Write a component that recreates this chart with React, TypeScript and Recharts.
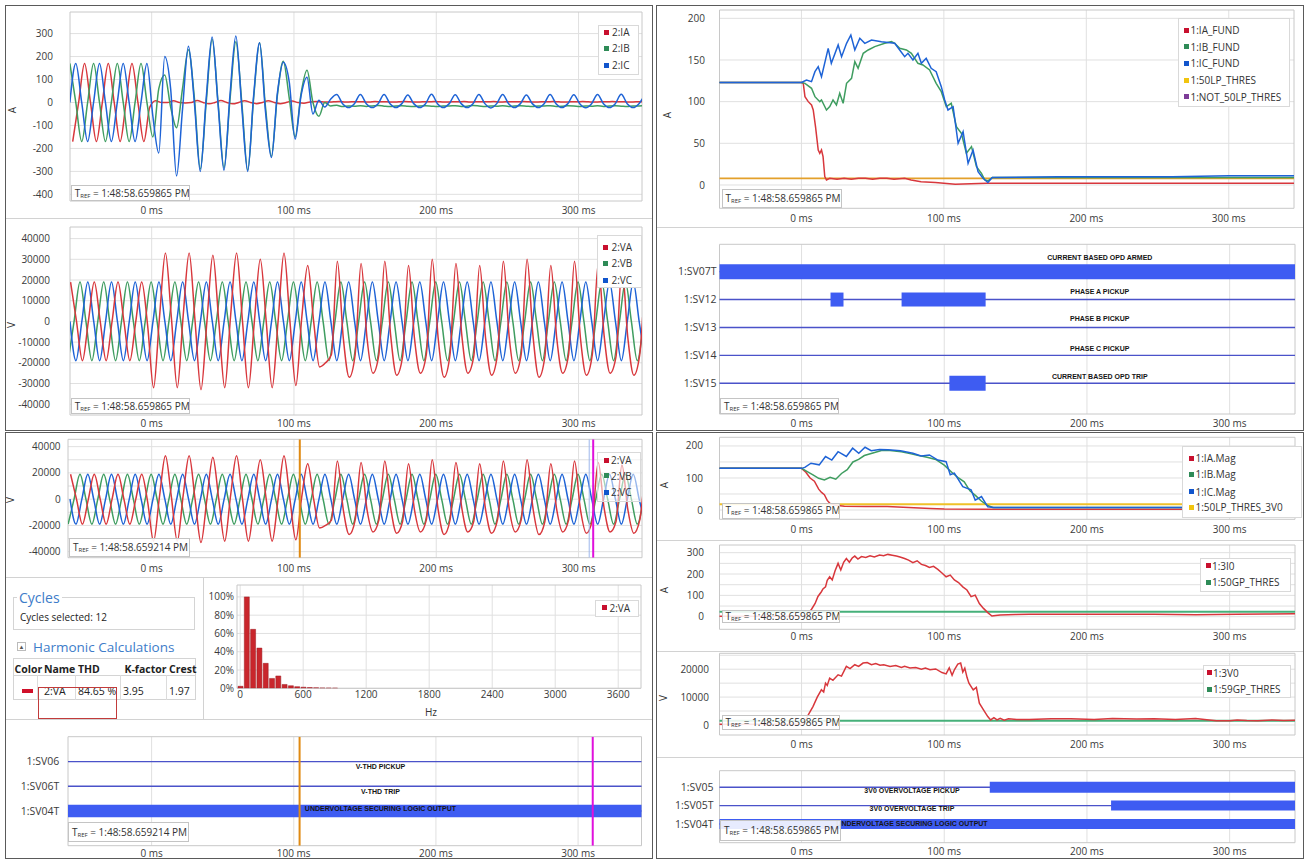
import React from 'react';
import { LineChart, Line, XAxis, YAxis, CartesianGrid, ReferenceArea, BarChart, Bar } from 'recharts';

const FONT = '"Segoe UI", "Open Sans", "Noto Sans", sans-serif';
const TAG_FONT = '"Liberation Sans", Arial, sans-serif';
const STEP = 50 / 12; // quarter cycle of 60 Hz, ms

const RED = '#d8373c';
const GREEN = '#3f9d60';
const BLUE = '#1e63d6';
const THR_O = '#e3a02b';
const THR_Y = '#efc12a';
const THR_G = '#46b07a';
const DIG_LINE = '#4a52c9';
const DIG_BAR = '#3e5cf2';

const MS_TICKS = [0, 100, 200, 300];
const LEFT_X = [-57.4, 344.6];
const LEFT_X2 = [-58.8, 344.6];
const RIGHT_X = [-57.5, 345.8];

// ---------------- waveform samples (quarter-cycle samples) ----------------
const IA_T0 = -55.5;
const IB_T0 = -57.5;
const IC_T0 = -57.5;
const VA_T0 = -57;
const VB_T0 = -58.7;
const VC_T0 = -57.4;

const IA_VALS = [
  -170, 0, 170, 0, -170, 0, 170, 0,
  -170, 0, 170, 0, -170, -20, 8, 0,
  0, 8, 0, -2, 0, 9, 0, -6,
  0, 9, 0, -6, 0, 8, 0, -5,
  0, 8, 0, -5, 0, 6, 0, -3,
  2, 4, 3, 2, 3, 4, 2, 3,
  3, 3, 2, 4, 3, 3, 2, 3,
  4, 3, 2, 3, 3, 4, 3, 2,
  3, 3, 4, 2, 3, 3, 3, 4,
  2, 3, 3, 3, 4, 3, 2, 3,
  3, 4, 3, 2, 3, 3, 4, 3,
  2, 3, 3, 4, 3, 3, 2, 3,
  3, 4,
];
const IB_VALS = [
  170, 0, -170, 0, 170, 0, -170, 0,
  170, 0, -170, 0, 170, 0, -150, 60,
  120, -20, -110, 60, 230, 20, -290, 0,
  275, 0, -285, 10, 265, 0, -295, 20,
  260, -20, -235, 30, 180, 20, -150, 40,
  140, 0, -60, 0, -15, -12, -18, -15,
  -16, -14, -17, -15, -13, -16, -18, -15,
  -14, -16, -17, -15, -14, -16, -18, -15,
  -15, -14, -17, -16, -13, -15, -18, -15,
  -16, -14, -17, -15, -14, -16, -18, -15,
  -15, -14, -17, -16, -14, -15, -18, -15,
  -16, -14, -17, -15, -14, -16, -18, -15,
  -15, -14,
];
const IC_VALS = [
  0, 170, 0, -170, 0, 170, 0, -170,
  0, 170, 0, -170, 0, 170, -60, -220,
  200, 60, -320, -30, 245, 0, -300, 20,
  285, -10, -295, 30, 290, -20, -300, 30,
  260, -40, -240, 40, 175, 90, -160, 30,
  110, -50, 10, -20, 15, 35, -5, -22,
  -5, 35, -5, -22, -5, 35, -5, -22,
  -5, 33, -5, -22, -5, 36, -5, -22,
  -5, 34, -5, -22, -5, 35, -5, -24,
  -5, 35, -5, -22, -5, 33, -5, -22,
  -5, 35, -5, -22, -5, 34, -5, -23,
  -5, 35, -5, -22, -5, 36, -5, -22,
  -5, 35,
];
const VA_VALS = [
  19000, 0, -19000, 0, 19000, 0, -19000, 0,
  19000, 0, -19000, 0, 19000, -2000, -32000, 2000,
  33000, 2000, -32000, 3000, 33000, 0, -33000, 0,
  32000, 0, -32000, 3000, 33000, 0, -32000, 0,
  30000, 0, -32000, 0, 33000, 0, -31000, 2000,
  27000, 0, -22000, -20000, -16000, 29000, -8000, -27000,
  -16000, 28000, -8000, -25000, -16000, 29000, -7000, -26000,
  -17000, 27000, -8000, -25000, -16000, 30000, -8000, -27000,
  -16000, 28000, -7000, -25000, -17000, 27000, -8000, -26000,
  -16000, 29000, -8000, -25000, -16000, 30000, -7000, -27000,
  -17000, 27000, -8000, -25000, -16000, 29000, -8000, -26000,
  -16000, 28000, -7000, -25000, -17000, 26000, -8000, -26000,
  -16000, 28000,
];
const VB_VALS = [
  -19000, 0, 19000, 0, -19000, 0, 19000, 0,
  -19000, 0, 19000, 0, -19000, 0, 19000, 0,
  -19000, 0, 19000, 0, -19000, 0, 19000, 0,
  -19000, 0, 19000, 0, -19000, 0, 19000, 0,
  -19000, 0, 19000, 0, -19000, 0, 19000, 0,
  -19000, 0, 19000, 0, -19000, 0, 19000, 0,
  -19000, 0, 19000, 0, -19000, 0, 19000, 0,
  -19000, 0, 19000, 0, -19000, 0, 19000, 0,
  -19000, 0, 19000, 0, -19000, 0, 19000, 0,
  -19000, 0, 19000, 0, -19000, 0, 19000, 0,
  -19000, 0, 19000, 0, -19000, 0, 19000, 0,
  -19000, 0, 19000, 0, -19000, 0, 19000, 0,
  -19000, 0,
];
const VC_VALS = [
  0, -19000, 0, 19000, 0, -19000, 0, 19000,
  0, -19000, 0, 19000, 0, -19000, 0, 19000,
  0, -19000, 0, 19000, 0, -19000, 0, 19000,
  0, -19000, 0, 19000, 0, -19000, 0, 19000,
  0, -19000, 0, 19000, 0, -19000, 0, 19000,
  0, -19000, 0, 19000, 0, -19000, 0, 19000,
  0, -19000, 0, 19000, 0, -19000, 0, 19000,
  0, -19000, 0, 19000, 0, -19000, 0, 19000,
  0, -19000, 0, 19000, 0, -19000, 0, 19000,
  0, -19000, 0, 19000, 0, -19000, 0, 19000,
  0, -19000, 0, 19000, 0, -19000, 0, 19000,
  0, -19000, 0, 19000, 0, -19000, 0, 19000,
  0, -19000,
];

// ---------------- fundamental / magnitude [ms, value] ----------------
const IA_FUND = [[-58, 123], [-20, 123], [0, 123], [1.3, 122], [2.5, 106], [4.8, 100], [7.1, 96], [8.3, 90], [9.9, 70], [11.8, 42], [12.9, 38], [14.1, 42], [15.2, 34], [16.4, 10], [17.6, 6], [19.9, 8], [25, 7], [30, 8], [35, 7], [40, 8], [45, 8], [50, 7], [55, 8], [60, 8], [65, 7], [72.5, 8], [77, 6], [84, 4], [94, 3], [108, 1], [130, 2], [200, 2], [300, 2], [346, 2]];
const IB_FUND = [[-58, 123], [0, 123], [2.5, 122], [7.1, 116], [9.5, 106], [12.9, 100], [14.1, 102], [17.6, 90], [19.9, 94], [22.2, 102], [24.6, 96], [26.9, 110], [29.3, 98], [31.7, 122], [35.2, 128], [37.5, 148], [39.8, 140], [43.4, 158], [46.9, 162], [51.5, 166], [58.5, 170], [63.2, 172], [65.5, 170], [69, 164], [73.7, 162], [77.2, 158], [81.8, 146], [85.3, 144], [90, 138], [94.6, 122], [98.2, 112], [101.7, 94], [105.2, 98], [108.8, 70], [112.3, 62], [115.8, 38], [119.4, 46], [122.9, 22], [126.4, 14], [128.8, 6], [131, 5], [134, 9], [180, 9], [260, 9], [346, 9]];
const IC_FUND = [[-58, 123], [0, 123], [3.6, 126], [7.1, 124], [9.5, 136], [11.8, 142], [14.1, 130], [18.8, 164], [21, 146], [25.8, 168], [28.2, 154], [31.7, 170], [34.7, 180], [37.5, 162], [41, 176], [44.5, 170], [49.2, 174], [56.2, 172], [60.8, 171], [65.5, 170], [69, 162], [72.5, 154], [74.8, 158], [78.3, 150], [81.8, 158], [84.2, 146], [87.6, 152], [91.1, 140], [94.6, 136], [98.2, 118], [100.6, 102], [102.9, 90], [106.5, 94], [110, 50], [113.5, 64], [117, 26], [120.5, 42], [124, 16], [127.5, 8], [130.9, 3], [134, 9], [180, 10], [260, 10], [300, 11], [346, 11]];
const LP_THRES = [[-58, 8], [346, 8]];

const IA_MAG = [[-58, 130], [0, 130], [3, 118], [6, 100], [9, 90], [12, 65], [14, 55], [16, 48], [18, 30], [20, 20], [24, 15], [30, 12], [45, 11], [60, 11], [75, 8], [90, 5], [100, 3], [130, 2], [346, 2]];
const IB_MAG = [[-58, 130], [0, 130], [4, 120], [8, 110], [12, 99], [16, 94], [20, 102], [24, 96], [28, 114], [32, 126], [36, 150], [40, 158], [44, 170], [50, 178], [56, 186], [62, 186], [70, 182], [76, 176], [82, 170], [88, 165], [94, 158], [100, 140], [106, 115], [110, 100], [114, 88], [118, 60], [122, 45], [126, 28], [130, 15], [134, 8], [346, 8]];
const IC_MAG = [[-58, 130], [0, 130], [2.3, 133], [6.6, 146], [12.4, 141], [16.8, 167], [21.2, 156], [25.6, 182], [31.4, 167], [35.8, 193], [40.1, 177], [44.5, 196], [48.8, 185], [54.7, 189], [60.5, 188], [69.3, 185], [78, 177], [83.8, 169], [89.6, 172], [95.5, 156], [101.3, 151], [104.2, 110], [107.1, 115], [113, 73], [118.8, 63], [121.7, 31], [126.1, 42], [130.5, 10], [134.8, 8], [346, 8]];
const LP_THRES_3V0 = [[-58, 18], [346, 18]];

const I0_3 = [[-58, 2], [0, 2], [3, 5], [5.1, 19], [7, 35], [9.5, 62], [11.5, 95], [13.9, 117], [15, 130], [16.8, 140], [18, 170], [19.7, 187], [21.5, 172], [23.5, 215], [25.6, 250], [27.5, 219], [29.5, 255], [31.4, 273], [33.5, 255], [35.5, 275], [37.3, 284], [39.5, 270], [42, 282], [45, 278], [48, 285], [51, 280], [54.7, 289], [57.5, 286], [60.5, 292], [63.5, 288], [66.4, 284], [69, 280], [72.2, 273], [75, 265], [78, 253], [81, 262], [84, 245], [86.8, 240], [89.6, 231], [92.5, 236], [95.5, 222], [98.4, 205], [101.3, 187], [104.2, 195], [107.1, 172], [110, 160], [113, 140], [115.9, 125], [118.8, 94], [121.7, 101], [124.6, 62], [127.5, 39], [130.5, 19], [133.4, 3], [136, 6], [139.2, 8], [150, 10], [159.6, 12], [188.7, 11], [217.9, 12], [247, 11], [276.1, 9], [305, 12], [325, 13], [346, 14]];
const GP50_THRES = [[-58, 23], [346, 23]];

const V0_3 = [[-58, 300], [0, 300], [2.2, 1200], [5.1, 4000], [8, 6600], [11, 10000], [13.9, 12600], [15.5, 11800], [16.8, 15000], [18, 14200], [19.7, 16800], [22, 16000], [25.6, 18000], [28, 17500], [31.4, 21000], [34, 20200], [37.3, 21600], [40, 21000], [43.1, 22200], [46, 22400], [49, 21600], [52, 22000], [55, 21400], [57.6, 21600], [62, 21000], [66, 21300], [70, 20600], [72.2, 21000], [76, 20400], [80, 20600], [84, 20000], [86.8, 20400], [90, 19800], [94, 20100], [98.4, 18800], [101.3, 18300], [103.5, 20500], [105.5, 17800], [107.1, 19800], [109.5, 21800], [111.5, 22200], [113, 19000], [114.4, 20400], [116, 17000], [117.3, 15000], [120.3, 12600], [122.5, 13500], [124.6, 7800], [127.5, 5400], [130.5, 3000], [132.5, 1800], [134.8, 2600], [137, 1800], [139.2, 2400], [142, 1700], [145, 2200], [150.8, 2000], [159.6, 2000], [175, 2200], [188.7, 2200], [205, 2000], [217.9, 2300], [235, 2100], [247, 2200], [262, 2000], [276.1, 2300], [284, 1900], [290.7, 1500], [300, 1500], [305.3, 1800], [312, 1600], [319.8, 1500], [330, 1800], [338, 1600], [346, 1700]];
const GP59_THRES = [[-58, 1500], [346, 1500]];

// ---------------- harmonic spectrum ----------------
const HARM_HZ = [0, 60, 120, 180, 240, 300, 360, 420, 480, 540, 600, 660, 720, 780, 840, 900];
const HARM_PCT = [2.2, 100, 64.5, 44, 27.3, 10.8, 13.5, 4.2, 2.8, 1.8, 1.2, 0.8, 0.6, 0.4, 0.3, 0.2];

// ---------------- digital channels ----------------
const B2_NAMES = ['1:SV07T', '1:SV12', '1:SV13', '1:SV14', '1:SV15'];
const B2_TAGS = ['CURRENT BASED OPD ARMED', 'PHASE A PICKUP', 'PHASE B PICKUP', 'PHASE C PICKUP', 'CURRENT BASED OPD TRIP'];
const B2_ON = [[[-58, 346]], [[20.3, 29.4], [70.1, 129]], [], [], [[103.6, 129]]];
const B2_TAG_T = 209;

const A4_NAMES = ['1:SV06', '1:SV06T', '1:SV04T'];
const A4_TAGS = ['V-THD PICKUP', 'V-THD TRIP', 'UNDERVOLTAGE SECURING LOGIC OUTPUT'];
const A4_ON = [[], [], [[-60, 346]]];
const A4_TAG_T = 161;

const B6_NAMES = ['1:SV05', '1:SV05T', '1:SV04T'];
const B6_TAGS = ['3V0 OVERVOLTAGE PICKUP', '3V0 OVERVOLTAGE TRIP', 'UNDERVOLTAGE SECURING LOGIC OUTPUT'];
const B6_ON = [[[131.9, 346]], [[216.9, 346]], [[-58, 346]]];
const B6_TAG_T = 77.4;

const CURSOR_T = [104.1, 310.3];
const CURSOR_AUX_T = 307.5;

// ---------------- helpers ----------------
const lattice = (t0: number, vals: number[]) => vals.map((v, i) => ({ t: t0 + i * STEP, v }));
const pairs = (arr: number[][]) => arr.map(([t, v]) => ({ t, v }));
const msFmt = (v: number) => `${v} ms`;

type LineDef = { pts: { t: number; v: number }[]; color: string; w?: number; curve?: string; dot?: any };

function TChart(p: any) {
  const [x, y, w, h] = p.box;
  const [pl, pt, pr, pb] = p.plot;
  const tickStyle = { fontSize: p.tickFs ?? 10, fill: '#3a3a3a', fontFamily: FONT };
  const yTickStyle = { fontSize: p.yTickFs ?? 10, fill: '#3a3a3a', fontFamily: FONT };
  return (
    <div style={{ position: 'absolute', left: x, top: y, width: w, height: h }}>
      <LineChart width={w} height={h} margin={{ top: pt - y, right: x + w - pr, bottom: 0, left: 0 }}>
        <CartesianGrid stroke="#e0e0e0" horizontal={p.yGrid ? true : false} horizontalValues={p.yGrid} verticalValues={MS_TICKS} />
        <XAxis type="number" dataKey="t" domain={p.xd} allowDataOverflow ticks={MS_TICKS} interval={0} tickFormatter={msFmt}
          height={y + h - pb} tickSize={0} tickMargin={p.xTM} axisLine={false} tickLine={false} tick={tickStyle} />
        <YAxis type="number" domain={p.yd} allowDataOverflow ticks={p.yTicks} interval={0} tickFormatter={p.yFmt}
          width={pl - x} tickSize={0} tickMargin={p.yTM} axisLine={false} tickLine={false} tick={yTickStyle} />
        <ReferenceArea x1={p.xd[0]} x2={p.xd[1]} y1={p.yd[0]} y2={p.yd[1]} fill="#ffffff" fillOpacity={0} stroke="#c8c8c8" strokeWidth={1} />
        {p.lines.map((l: LineDef, i: number) => (
          <Line key={i} data={l.pts} dataKey="v" type={(l.curve ?? 'monotone') as any} stroke={l.color} strokeWidth={l.w ?? 1.5}
            dot={l.dot ?? false} activeDot={false} isAnimationActive={false} />
        ))}
      </LineChart>
    </div>
  );
}

function Legend({ box, sqX, txX, rows, items, bg }: any) {
  const [x, y, w, h] = box;
  return (
    <>
      <div style={{ position: 'absolute', left: x, top: y, width: w, height: h, border: '1px solid #d9d9d9', background: bg ?? '#fff', boxSizing: 'border-box' }} />
      {items.map((it: any, i: number) => (
        <React.Fragment key={i}>
          <div style={{ position: 'absolute', left: sqX, top: rows[i] - 2.5, width: 5, height: 5, background: it.c }} />
          <div style={{ position: 'absolute', left: txX, top: rows[i] - 7, height: 14, lineHeight: '14px', fontSize: 10, color: '#333', whiteSpace: 'nowrap', fontFamily: FONT }}>{it.n}</div>
        </React.Fragment>
      ))}
    </>
  );
}

function Tref({ box, time }: any) {
  const [x, y, w, h] = box;
  return (
    <div style={{ position: 'absolute', left: x, top: y, width: w, height: h, border: '1px solid #c4c4c4', background: 'rgba(255,255,255,0.88)', boxSizing: 'border-box', fontSize: 10, color: '#333', lineHeight: `${h - 2}px`, paddingLeft: 3, whiteSpace: 'nowrap', overflow: 'hidden', fontFamily: FONT }}>
      T<span style={{ fontSize: 6, verticalAlign: '-1px' }}>REF</span> = {time}
    </div>
  );
}

function AxisLabel({ x, y, text }: any) {
  return (
    <div style={{ position: 'absolute', left: x - 7, top: y - 7, width: 14, height: 14, lineHeight: '14px', textAlign: 'center', fontSize: 10, color: '#333', transform: 'rotate(-90deg)', fontFamily: FONT }}>{text}</div>
  );
}

function tagDot(text: string, dy: number) {
  return (props: any) => (
    <text key={`tag-${text}-${props.index}`} x={props.cx} y={props.cy + dy} textAnchor="middle" dominantBaseline="central"
      fontSize={7} fontWeight={700} fontFamily={TAG_FONT} fill="#151515">{text}</text>
  );
}

function digitalLines(names: string[], on: number[][][], heights: number[], tags: string[], tagT: number, tagDy: number[], xd: number[]): LineDef[] {
  const n = names.length;
  const out: LineDef[] = [];
  names.forEach((_, i) => {
    const row = n - i;
    out.push({ pts: [{ t: xd[0] - 2, v: row }, { t: xd[1] + 2, v: row }], color: DIG_LINE, w: 1.4, curve: 'linear' });
  });
  names.forEach((_, i) => {
    const row = n - i;
    on[i].forEach(([a, b]) => {
      out.push({ pts: [{ t: a, v: row }, { t: b, v: row }], color: DIG_BAR, w: heights[i], curve: 'linear' });
    });
  });
  names.forEach((_, i) => {
    const row = n - i;
    out.push({ pts: [{ t: tagT, v: row }], color: 'none', w: 0, curve: 'linear', dot: tagDot(tags[i], tagDy[i]) });
  });
  return out;
}

function cursorLines(yd: number[], withAux: boolean): LineDef[] {
  const out: LineDef[] = [];
  if (withAux) out.push({ pts: [{ t: CURSOR_AUX_T, v: yd[0] }, { t: CURSOR_AUX_T, v: yd[1] }], color: '#9db7ec', w: 1, curve: 'linear' });
  out.push({ pts: [{ t: CURSOR_T[0], v: yd[0] }, { t: CURSOR_T[0], v: yd[1] }], color: '#e08a12', w: 2, curve: 'linear' });
  out.push({ pts: [{ t: CURSOR_T[1], v: yd[0] }, { t: CURSOR_T[1], v: yd[1] }], color: '#e010dc', w: 2, curve: 'linear' });
  return out;
}

function HarmonicChart() {
  const data = HARM_HZ.map((hz, i) => ({ hz, pct: HARM_PCT[i] }));
  const box = [204, 578, 448, 140];
  const plot = [237, 585, 641, 688.3];
  const tickStyle = { fontSize: 10, fill: '#3a3a3a', fontFamily: FONT };
  const xd = [-30, 3817];
  const yd = [0, 113];
  return (
    <div style={{ position: 'absolute', left: box[0], top: box[1], width: box[2], height: box[3] }}>
      <BarChart width={box[2]} height={box[3]} data={data} margin={{ top: plot[1] - box[1], right: box[0] + box[2] - plot[2], bottom: 0, left: 0 }}>
        <CartesianGrid stroke="#e0e0e0" horizontalValues={[0, 20, 40, 60, 80, 100]} verticalValues={[0, 600, 1200, 1800, 2400, 3000, 3600]} />
        <XAxis type="number" dataKey="hz" domain={xd} allowDataOverflow ticks={[0, 600, 1200, 1800, 2400, 3000, 3600]} interval={0}
          height={box[1] + box[3] - plot[3]} tickSize={0} tickMargin={2.4} axisLine={false} tickLine={false} tick={tickStyle} />
        <YAxis type="number" domain={yd} allowDataOverflow ticks={[0, 20, 40, 60, 80, 100]} interval={0} tickFormatter={(v: number) => `${v}%`}
          width={plot[0] - box[0]} tickSize={0} tickMargin={3} axisLine={false} tickLine={false} tick={tickStyle} />
        <ReferenceArea x1={xd[0]} x2={xd[1]} y1={yd[0]} y2={yd[1]} fill="#fff" fillOpacity={0} stroke="#c8c8c8" />
        <Bar dataKey="pct" barSize={5} fill="#c9262c" stroke="#9c1b20" strokeWidth={0.5} isAnimationActive={false} />
      </BarChart>
    </div>
  );
}

function CyclesPanel() {
  const blue = '#3d7cc9';
  const hdr: any = { position: 'absolute', top: 662, fontSize: 10.5, fontWeight: 700, lineHeight: '14px', color: '#222', whiteSpace: 'nowrap' };
  const cell: any = { position: 'absolute', top: 683.6, fontSize: 10.5, lineHeight: '14px', color: '#222', whiteSpace: 'nowrap' };
  const vline = (x: number) => <div style={{ position: 'absolute', left: x, top: 675, width: 1, height: 25, background: '#dcdcdc' }} />;
  return (
    <div style={{ fontFamily: FONT }}>
      <div style={{ position: 'absolute', left: 13, top: 597, width: 182, height: 33, border: '1px solid #d4d4d4', boxSizing: 'border-box' }} />
      <div style={{ position: 'absolute', left: 17, top: 589, padding: '0 2px', background: '#fff', color: blue, fontSize: 14, lineHeight: '17px' }}>Cycles</div>
      <div style={{ position: 'absolute', left: 20, top: 611, fontSize: 10, lineHeight: '13px', color: '#222' }}>Cycles selected: 12</div>
      <div style={{ position: 'absolute', left: 17, top: 642, width: 9, height: 9, border: '1px solid #bbb', boxSizing: 'border-box', fontSize: 6, lineHeight: '8px', textAlign: 'center', color: '#555' }}>▲</div>
      <div style={{ position: 'absolute', left: 33, top: 638.5, color: blue, fontSize: 13.5, lineHeight: '17px', whiteSpace: 'nowrap' }}>Harmonic Calculations</div>
      <div style={{ position: 'absolute', left: 12.5, top: 657.5, width: 183, height: 42.5, border: '1px solid #d4d4d4', boxSizing: 'border-box' }} />
      <div style={{ position: 'absolute', left: 12.5, top: 675, width: 183, height: 1, background: '#d4d4d4' }} />
      <div style={{ ...hdr, left: 14.6 }}>Color</div>
      <div style={{ ...hdr, left: 43.9 }}>Name</div>
      <div style={{ ...hdr, left: 78 }}>THD</div>
      <div style={{ ...hdr, left: 124.5 }}>K-factor</div>
      <div style={{ ...hdr, left: 169 }}>Crest</div>
      {vline(36.8)}{vline(75.2)}{vline(120.3)}{vline(166.2)}
      <div style={{ position: 'absolute', left: 21.7, top: 688.5, width: 11.7, height: 4.5, background: '#d0102a' }} />
      <div style={{ ...cell, left: 43.9 }}>2:VA</div>
      <div style={{ ...cell, left: 78 }}>84.65 %</div>
      <div style={{ ...cell, left: 123 }}>3.95</div>
      <div style={{ ...cell, left: 169 }}>1.97</div>
      <div style={{ position: 'absolute', left: 37.6, top: 686.7, width: 79.4, height: 32, border: '1.5px solid #c23b3b', boxSizing: 'border-box' }} />
      <div style={{ position: 'absolute', left: 425, top: 705, fontSize: 10, lineHeight: '14px', color: '#333' }}>Hz</div>
    </div>
  );
}

export default function App() {
  const frame = (l: number, t: number, w: number, h: number) => (
    <div style={{ position: 'absolute', left: l, top: t, width: w, height: h, border: '1.5px solid #5a5a5a', boxSizing: 'border-box' }} />
  );
  const hsep = (l: number, t: number, w: number) => <div style={{ position: 'absolute', left: l, top: t, width: w, height: 1, background: '#d2d2d2' }} />;
  const vsep = (l: number, t: number, h: number) => <div style={{ position: 'absolute', left: l, top: t, width: 1, height: h, background: '#d2d2d2' }} />;

  const iLines: LineDef[] = [
    { pts: lattice(IA_T0, IA_VALS), color: RED },
    { pts: lattice(IB_T0, IB_VALS), color: GREEN },
    { pts: lattice(IC_T0, IC_VALS), color: BLUE },
  ];
  const vLines: LineDef[] = [
    { pts: lattice(VB_T0, VB_VALS), color: GREEN },
    { pts: lattice(VC_T0, VC_VALS), color: BLUE },
    { pts: lattice(VA_T0, VA_VALS), color: RED },
  ];
  const A3_YD = [-44600, 45600];
  const A4_YD = [-0.41, 4.01];

  const rowFmt = (names: string[]) => (v: number) => names[names.length - v] ?? '';

  return (
    <div style={{ position: 'absolute', left: 0, top: 0, width: 1307, height: 859, background: '#fff', overflow: 'hidden', fontFamily: FONT }}>
      {frame(5, 5, 648, 426)}
      {frame(5, 432, 648, 427)}
      {frame(656, 5, 648, 426)}
      {frame(656, 432, 648, 427)}
      {hsep(6, 218, 646)}
      {hsep(657, 227, 646)}
      {hsep(6, 577, 646)}
      {hsep(6, 719, 646)}
      {vsep(203, 577, 142)}
      {hsep(657, 540, 646)}
      {hsep(657, 651, 646)}
      {hsep(657, 757, 646)}

      {/* A1: phase currents */}
      <TChart box={[8, 8, 644, 210]} plot={[70, 12, 642, 201]} xd={LEFT_X} yd={[-429, 394]}
        yTicks={[-400, -300, -200, -100, 0, 100, 200, 300]} yGrid={[-400, -300, -200, -100, 0, 100, 200, 300]}
        xTM={5.4} yTM={17} lines={iLines} />
      {/* A2: phase voltages */}
      <TChart box={[8, 219, 644, 211]} plot={[70, 227, 642, 415]} xd={LEFT_X} yd={[-45200, 45600]}
        yTicks={[-40000, -30000, -20000, -10000, 0, 10000, 20000, 30000, 40000]} yGrid={[-40000, -30000, -20000, -10000, 0, 10000, 20000, 30000, 40000]}
        xTM={4.4} yTM={20} lines={vLines} />
      {/* A3: voltages with cursors */}
      <TChart box={[8, 433, 644, 144]} plot={[68, 439.3, 642, 557.7]} xd={LEFT_X2} yd={A3_YD}
        yTicks={[-40000, -20000, 0, 20000, 40000]} yGrid={[-40000, -30000, -20000, -10000, 0, 10000, 20000, 30000, 40000]}
        xTM={6.7} yTM={7.4} lines={[...vLines, ...cursorLines(A3_YD, true)]} />
      <HarmonicChart />
      {/* A4: digital */}
      <TChart box={[8, 720, 644, 139]} plot={[68, 736.7, 641.5, 845.7]} xd={LEFT_X2} yd={A4_YD}
        yTicks={[3, 2, 1]} yFmt={rowFmt(A4_NAMES)} yTickFs={10.5} xTM={4} yTM={8.7}
        lines={[...digitalLines(A4_NAMES, A4_ON, [12, 12, 12.4], A4_TAGS, A4_TAG_T, [5, 5.3, -2.7], LEFT_X2), ...cursorLines(A4_YD, false)]} />

      {/* TR: fundamentals */}
      <TChart box={[657, 7, 645, 220]} plot={[719.5, 10, 1294, 208.3]} xd={RIGHT_X} yd={[-28, 210]}
        yTicks={[0, 50, 100, 150, 200]} yGrid={[0, 50, 100, 150, 200]} xTM={6.1} yTM={14.5}
        lines={[
          { pts: pairs(LP_THRES), color: THR_O, w: 1.8, curve: 'linear' },
          { pts: pairs(IA_FUND), color: RED, curve: 'linear' },
          { pts: pairs(IB_FUND), color: GREEN, curve: 'linear' },
          { pts: pairs(IC_FUND), color: BLUE, curve: 'linear' },
        ]} />
      {/* B2: digital */}
      <TChart box={[657, 228, 645, 202]} plot={[719.5, 244.3, 1295, 414]} xd={RIGHT_X} yd={[-0.1, 5.98]}
        yTicks={[5, 4, 3, 2, 1]} yFmt={rowFmt(B2_NAMES)} yTickFs={10.5} xTM={5.4} yTM={3}
        lines={digitalLines(B2_NAMES, B2_ON, [15, 14, 14, 14, 15], B2_TAGS, B2_TAG_T, [-14, -8.3, -9, -6.7, -6.6], RIGHT_X)} />
      {/* B3: magnitudes */}
      <TChart box={[657, 433, 645, 107]} plot={[719.5, 437.3, 1295, 519.3]} xd={RIGHT_X} yd={[-29, 227]}
        yTicks={[0, 100, 200]} yGrid={[0, 50, 100, 150, 200]} xTM={6.4} yTM={16.5}
        lines={[
          { pts: pairs(LP_THRES_3V0), color: THR_Y, w: 1.8, curve: 'linear' },
          { pts: pairs(IA_MAG), color: RED, curve: 'linear' },
          { pts: pairs(IB_MAG), color: GREEN, curve: 'linear' },
          { pts: pairs(IC_MAG), color: BLUE, curve: 'linear' },
        ]} />
      {/* B4: 3I0 */}
      <TChart box={[657, 541, 645, 110]} plot={[719.5, 545, 1295, 629.3]} xd={RIGHT_X} yd={[-59, 336]}
        yTicks={[0, 100, 200, 300]} yGrid={[0, 50, 100, 150, 200, 250, 300]} xTM={3.8} yTM={15.5}
        lines={[
          { pts: pairs(GP50_THRES), color: THR_G, w: 2, curve: 'linear' },
          { pts: pairs(I0_3), color: RED, curve: 'linear' },
        ]} />
      {/* B5: 3V0 */}
      <TChart box={[657, 652, 645, 105]} plot={[719.5, 653.3, 1295, 735]} xd={RIGHT_X} yd={[-3600, 25700]}
        yTicks={[0, 10000, 20000]} yGrid={[0, 5000, 10000, 15000, 20000, 25000]} xTM={5.7} yTM={10.5}
        lines={[
          { pts: pairs(GP59_THRES), color: THR_G, w: 2, curve: 'linear' },
          { pts: pairs(V0_3), color: RED, curve: 'linear' },
        ]} />
      {/* B6: digital */}
      <TChart box={[657, 758, 645, 101]} plot={[719.5, 770.7, 1295, 842.7]} xd={RIGHT_X} yd={[-0.02, 3.9]}
        yTicks={[3, 2, 1]} yFmt={rowFmt(B6_NAMES)} yTickFs={10.5} xTM={5.4} yTM={6}
        lines={digitalLines(B6_NAMES, B6_ON, [11, 10, 10], B6_TAGS, B6_TAG_T, [3.4, 3.3, -0.7], RIGHT_X)} />

      <CyclesPanel />

      {/* axis labels */}
      <AxisLabel x={11.7} y={110} text="A" />
      <AxisLabel x={11} y={325} text="V" />
      <AxisLabel x={10} y={500} text="V" />
      <AxisLabel x={666.7} y={115} text="A" />
      <AxisLabel x={664} y={485} text="A" />
      <AxisLabel x={664} y={590} text="A" />
      <AxisLabel x={663} y={698} text="V" />

      {/* legends */}
      <Legend box={[598, 25, 41, 50]} sqX={604} txX={612} rows={[32.3, 48.3, 65]}
        items={[{ n: '2:IA', c: '#c8102e' }, { n: '2:IB', c: '#2e8b57' }, { n: '2:IC', c: '#1155cc' }]} />
      <Legend box={[597, 235, 45, 53]} sqX={603} txX={611.5} rows={[247.3, 263.3, 280]}
        items={[{ n: '2:VA', c: '#c8102e' }, { n: '2:VB', c: '#2e8b57' }, { n: '2:VC', c: '#1155cc' }]} />
      <Legend box={[597, 452, 44, 50]} sqX={603.5} txX={611} rows={[460, 475.7, 492.3]} bg="rgba(255,255,255,0.55)"
        items={[{ n: '2:VA', c: '#c8102e' }, { n: '2:VB', c: '#2e8b57' }, { n: '2:VC', c: '#1155cc' }]} />
      <Legend box={[595, 600, 44, 17]} sqX={601.5} txX={609.5} rows={[607.8]} items={[{ n: '2:VA', c: '#c8102e' }]} />
      <Legend box={[1178, 18, 112, 89]} sqX={1183.5} txX={1190.5} rows={[30, 46.7, 63.3, 80, 96.7]}
        items={[{ n: '1:IA_FUND', c: '#c8102e' }, { n: '1:IB_FUND', c: '#2e8b57' }, { n: '1:IC_FUND', c: '#1155cc' }, { n: '1:50LP_THRES', c: '#f1c40f' }, { n: '1:NOT_50LP_THRES', c: '#7d3c98' }]} />
      <Legend box={[1182, 446, 120, 72]} sqX={1189} txX={1195.5} rows={[458.3, 474.3, 491.7, 507.3]}
        items={[{ n: '1:IA.Mag', c: '#c8102e' }, { n: '1:IB.Mag', c: '#2e8b57' }, { n: '1:IC.Mag', c: '#1155cc' }, { n: '1:50LP_THRES_3V0', c: '#f1c40f' }]} />
      <Legend box={[1200, 558, 91, 34]} sqX={1206} txX={1212} rows={[565.7, 582.3]}
        items={[{ n: '1:3I0', c: '#c8102e' }, { n: '1:50GP_THRES', c: '#2e8b57' }]} />
      <Legend box={[1203, 665, 88, 33]} sqX={1207} txX={1213} rows={[672.7, 689.3]}
        items={[{ n: '1:3V0', c: '#c8102e' }, { n: '1:59GP_THRES', c: '#2e8b57' }]} />

      {/* time reference boxes */}
      <Tref box={[70.7, 185, 119, 16]} time="1:48:58.659865 PM" />
      <Tref box={[70.7, 398, 119, 16.3]} time="1:48:58.659865 PM" />
      <Tref box={[69, 537.5, 121, 19.5]} time="1:48:58.659214 PM" />
      <Tref box={[68, 822, 121, 20]} time="1:48:58.659214 PM" />
      <Tref box={[721.5, 189.3, 120, 19]} time="1:48:58.659865 PM" />
      <Tref box={[720, 397.7, 118.5, 16.3]} time="1:48:58.659865 PM" />
      <Tref box={[721.5, 503, 118.5, 15.5]} time="1:48:58.659865 PM" />
      <Tref box={[721.5, 609.5, 118.5, 13.5]} time="1:48:58.659865 PM" />
      <Tref box={[721.5, 715, 118.5, 15]} time="1:48:58.659865 PM" />
      <Tref box={[720, 820, 121, 20.7]} time="1:48:58.659865 PM" />
    </div>
  );
}
